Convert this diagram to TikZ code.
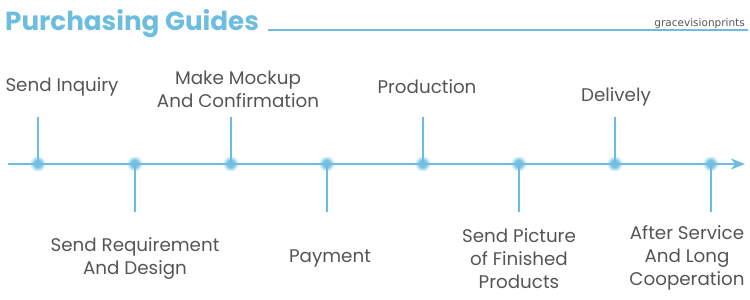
\documentclass[tikz,border=0pt]{standalone}
\usepackage{fontspec}
\setmainfont{Poppins}
\newfontfamily\brandfont{DejaVu Sans}
\usetikzlibrary{arrows.meta}
\definecolor{tlblue}{HTML}{6CBDE0}
\definecolor{txtgray}{HTML}{555555}
\begin{document}
\begin{tikzpicture}[x=1pt,y=-1pt,
  lbl/.style={text=txtgray,font=\fontsize{18.3}{23}\selectfont,align=center,inner sep=0pt},
  stem/.style={draw=tlblue,line width=1.8pt}]
\useasboundingbox (0,0) rectangle (750,300);
% title
\node[anchor=base west,inner sep=0pt,text=tlblue,font=\fontsize{26.2}{28}\selectfont\bfseries] (title) at (5,30) {Purchasing Guides};
\coordinate (tl1) at (268,29.5);
\coordinate (tl2) at (748,29.5);
\draw[tlblue,line width=2pt] (tl1) -- (tl2);
\node[anchor=base east,inner sep=0pt,text=txtgray,font=\brandfont\fontsize{10.5}{12}\selectfont] (brand) at (745,26) {gracevisionprints};
% timeline
\coordinate (start) at (8,164);
\coordinate (end) at (745,164);
\draw[tlblue,line width=1.8pt,-{Stealth[length=14pt,width=11pt,inset=4pt]}] (start) -- (end);
% stems
\foreach \x/\n in {38/a,231/c,423/e,615/g}{
  \coordinate (\n) at (\x,164);
  \coordinate (\n t) at (\x,117);
  \draw[stem] (\n t) -- (\n);
}
\foreach \x/\n in {135/b,327/d,519/f,711/h}{
  \coordinate (\n) at (\x,164);
  \coordinate (\n t) at (\x,212);
  \draw[stem] (\n) -- (\n t);
}
% glowing dots
\foreach \n in {a,b,c,d,e,f,g,h}{
  \fill[tlblue,opacity=0.25] (\n) circle (7.5);
  \fill[tlblue,opacity=0.45] (\n) circle (6);
  \fill[tlblue,opacity=0.8] (\n) circle (4.5);
}
% labels
\node[lbl] (la) at (62,87) {Send Inquiry};
\node[lbl] (lc) at (238,89) {Make Mockup\\And Confirmation};
\node[lbl] (le) at (427,87) {Production};
\node[lbl] (lg) at (616,97) {Delively};
\node[lbl] (lb) at (135,258.5) {Send Requirement\\And Design};
\node[lbl] (ld) at (330,258) {Payment};
\node[lbl] (lf) at (519,259) {Send Picture\\of Finished\\Products};
\node[lbl] (lh) at (687,258) {After Service\\And Long\\Cooperation};
\end{tikzpicture}
\end{document}
